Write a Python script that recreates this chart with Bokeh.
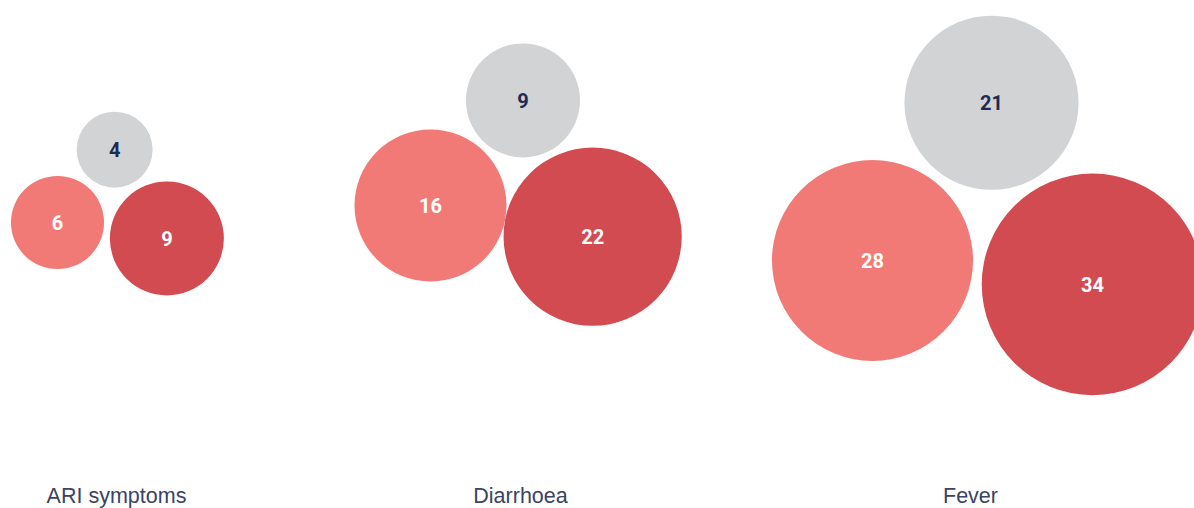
import math
from bokeh.plotting import figure
from bokeh.models import Range1d, ColumnDataSource
from bokeh.core.properties import value
from bokeh.embed import file_html
from bokeh.resources import INLINE

# ---- data ----
categories = ["ARI symptoms", "Diarrhoea", "Fever"]
grey_values = [4, 9, 21]
pink_values = [6, 16, 28]
dark_values = [9, 22, 34]

# ---- layout (pixels) ----
anchor_x = [57, 430, 872]      # centre of the pink bubble
anchor_y = [222, 205, 260]
tilt_deg = [8.3, 10.9, 6.2]    # direction pink -> dark red
pd_gap = [7, 0, 10]            # gap pink <-> dark red
grey_gap = [8, 7, 10]          # gap grey <-> others
label_x = [116, 520, 970]
label_y = 495
k = 19.0                        # radius = k * sqrt(value)

GREY, PINK, DARK = "#d1d3d5", "#f27a76", "#d14b50"
NAVY = "#1d2b54"

xs, ys, rs, cols, txt, tcol = [], [], [], [], [], []
for i in range(len(categories)):
    rg = k * math.sqrt(grey_values[i])
    rp = k * math.sqrt(pink_values[i])
    rd = k * math.sqrt(dark_values[i])
    px, py = anchor_x[i], anchor_y[i]
    th = math.radians(tilt_deg[i])
    c = rp + rd + pd_gap[i]
    dx, dy = px + c * math.cos(th), py + c * math.sin(th)
    a = rp + rg + grey_gap[i]
    b = rd + rg + grey_gap[i]
    alpha = math.acos((a * a + c * c - b * b) / (2 * a * c))
    gx, gy = px + a * math.cos(th - alpha), py + a * math.sin(th - alpha)
    for (x, y, r, col, v, tc) in [(gx, gy, rg, GREY, grey_values[i], NAVY),
                                  (px, py, rp, PINK, pink_values[i], "white"),
                                  (dx, dy, rd, DARK, dark_values[i], "white")]:
        xs.append(x); ys.append(y); rs.append(r); cols.append(col)
        txt.append(str(v)); tcol.append(tc)

src = ColumnDataSource(dict(x=xs, y=ys, r=rs, c=cols, t=txt, tc=tcol))

p = figure(width=1194, height=508, output_backend="svg", toolbar_location=None,
           x_range=Range1d(0, 1194), y_range=Range1d(508, 0),
           min_border=0, outline_line_color=None)
p.axis.visible = False
p.grid.visible = False
p.background_fill_color = "white"
p.border_fill_color = "white"

p.circle(x="x", y="y", radius="r", fill_color="c", line_color=None, source=src)
p.text(x="x", y="y", text="t", text_color="tc", source=src,
       text_align="center", text_baseline="middle",
       text_font=value("Roboto"), text_font_style="bold", text_font_size="20px")

lab = ColumnDataSource(dict(x=label_x, y=[label_y] * 3, t=categories))
p.text(x="x", y="y", text="t", source=lab, text_align="center",
       text_baseline="middle", text_color="#3a4463",
       text_font=value("Liberation Sans"), text_font_size="21.5px")

open("out.html", "w").write(file_html(p, INLINE))
